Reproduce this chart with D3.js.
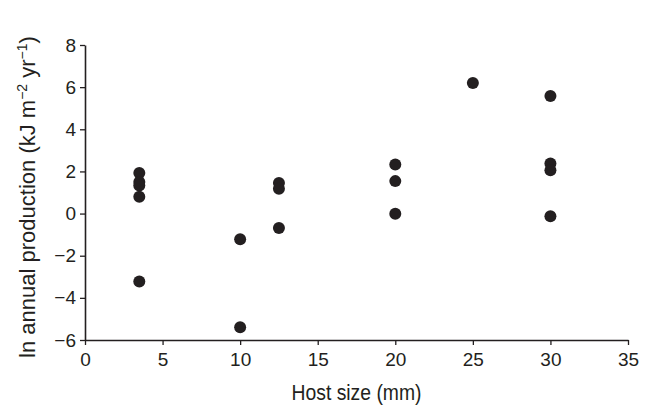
<!DOCTYPE html>
<html>
<head>
<meta charset="utf-8">
<script src="https://cdn.jsdelivr.net/npm/d3@7"></script>
<style>
  body { margin: 0; background: #fff; }
  svg text { font-family: "Liberation Sans", Arial, Helvetica, sans-serif; fill: #231f20; }
</style>
</head>
<body>
<svg width="651" height="407"></svg>
<script>
// host size (mm) and ln annual production for each point
const hostSize = [3.5, 3.5, 3.5, 3.5, 3.5, 10, 10, 12.5, 12.5, 12.5, 20, 20, 20, 25, 30, 30, 30, 30];
const lnProd = [1.93, 1.5, 1.33, 0.8, -3.22, -1.22, -5.4, 1.45, 1.18, -0.68, 2.33, 1.54, -0.01, 6.2, 5.58, 2.38, 2.06, -0.13];
const xTicks = [0, 5, 10, 15, 20, 25, 30, 35];
const yTicks = [-6, -4, -2, 0, 2, 4, 6, 8];

const svg = d3.select("svg");
const margin = {left: 85, right: 23, top: 45, bottom: 67};
const width = +svg.attr("width");
const height = +svg.attr("height");

const x = d3.scaleLinear().domain([0, 35]).range([margin.left, width - margin.right]);
const y = d3.scaleLinear().domain([-6, 8]).range([height - margin.bottom, margin.top]);

// x axis
const xAxis = svg.append("g")
    .attr("transform", "translate(0," + y(-6) + ")")
    .call(d3.axisBottom(x).tickValues(xTicks).tickSize(5).tickPadding(8).tickSizeOuter(0));

// y axis
const yAxis = svg.append("g")
    .attr("transform", "translate(" + x(0) + ",0)")
    .call(d3.axisLeft(y).tickValues(yTicks).tickSize(5).tickPadding(4).tickSizeOuter(0)
        .tickFormat(function (d) { return d < 0 ? "\u2212" + Math.abs(d) : d; }));

[xAxis, yAxis].forEach(function (a) {
    a.select(".domain").attr("stroke", "#231f20").attr("stroke-width", 1.6);
    a.selectAll(".tick line").attr("stroke", "#231f20").attr("stroke-width", 1.3);
    a.selectAll(".tick text").attr("font-size", 19).attr("fill", "#231f20")
        .style("font-family", "'Liberation Sans', Arial, sans-serif");
});

// points
svg.append("g")
    .selectAll("circle")
    .data(hostSize)
    .enter().append("circle")
    .attr("cx", function (d) { return x(d); })
    .attr("cy", function (d, i) { return y(lnProd[i]); })
    .attr("r", 6)
    .attr("fill", "#231f20");

// axis titles
svg.append("text")
    .attr("x", (x(0) + x(35)) / 2)
    .attr("y", 400)
    .attr("text-anchor", "middle")
    .attr("font-size", 22)
    .attr("textLength", 130)
    .attr("lengthAdjust", "spacingAndGlyphs")
    .text("Host size (mm)");

const yl = svg.append("text")
    .attr("transform", "translate(35,197) rotate(-90)")
    .attr("text-anchor", "middle")
    .attr("font-size", 22);
yl.append("tspan").text("ln annual production (kJ m");
yl.append("tspan").attr("font-size", 14).attr("dy", -8).text("\u22122");
yl.append("tspan").attr("dy", 8).text(" yr");
yl.append("tspan").attr("font-size", 14).attr("dy", -8).text("\u22121");
yl.append("tspan").attr("dy", 8).text(")");
</script>
</body>
</html>
